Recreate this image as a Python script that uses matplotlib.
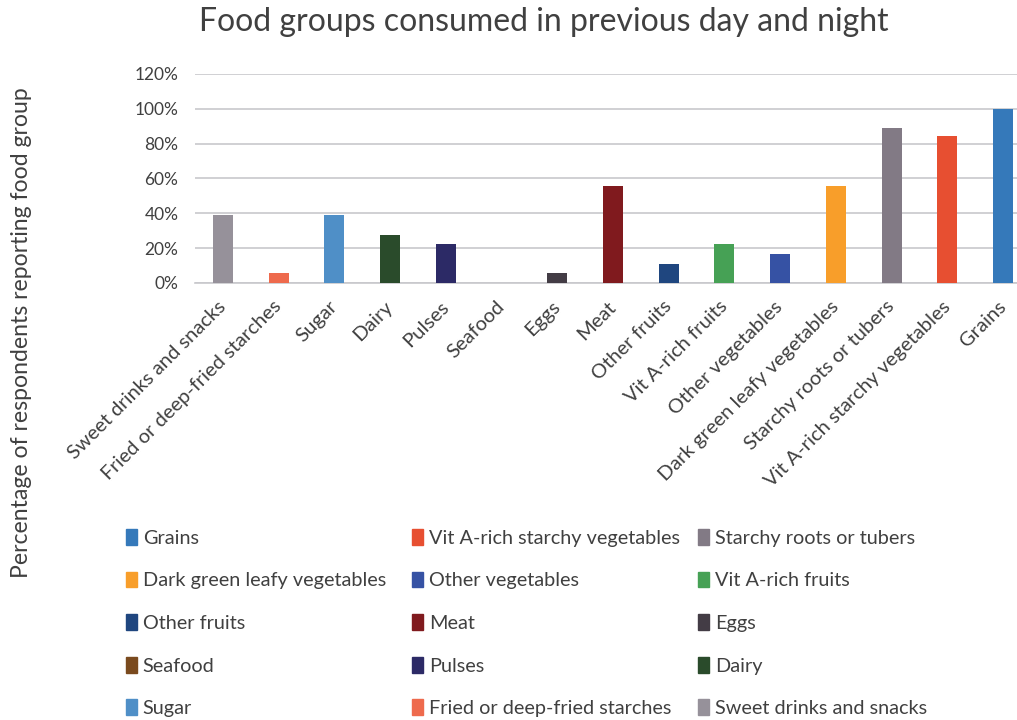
import matplotlib
matplotlib.use("Agg")
import matplotlib.pyplot as plt
from matplotlib.patches import Patch
import numpy as np

categories = ["Sweet drinks and snacks", "Fried or deep-fried starches", "Sugar", "Dairy",
              "Pulses", "Seafood", "Eggs", "Meat", "Other fruits", "Vit A-rich fruits",
              "Other vegetables", "Dark green leafy vegetables", "Starchy roots or tubers",
              "Vit A-rich starchy vegetables", "Grains"]
values = [38.9, 5.6, 38.9, 27.8, 22.2, 0.0, 5.6, 55.6, 11.1, 22.2, 16.7, 55.6, 88.9, 84.5, 100.0]
colors = ["#96919A", "#EE6A4D", "#4F8FC7", "#2A4B2B", "#2C2A66", "#7A4A1E", "#433C45",
          "#801A1E", "#1F467F", "#46A155", "#3652A4", "#F89E2A", "#827A85", "#E74F31", "#3579BA"]
yticks = [0, 20, 40, 60, 80, 100, 120]

plt.rcParams['font.family'] = ['Lato', 'DejaVu Sans']
txt = "#404040"

fig = plt.figure(figsize=(10.17, 7.2), dpi=100)
ax = fig.add_axes([195/1017, 1-283/720, (1031-195)/1017, (283-74)/720])
x = np.arange(len(categories))
ax.bar(x, values, width=0.36, color=colors, zorder=3)
ax.set_xlim(-0.5, len(categories)-0.5)
ax.set_ylim(0, 120)
ax.set_yticks(yticks)
ax.set_yticklabels([f"{v}%" for v in yticks], fontsize=12.5, color=txt)
ax.yaxis.grid(True, color="#C8C8CC", linewidth=1.2, zorder=0)
for s in ["top", "right", "left"]:
    ax.spines[s].set_visible(False)
ax.spines["bottom"].set_color("#C8C8CC")
ax.spines["bottom"].set_linewidth(1.2)
ax.tick_params(axis="both", length=0)
ax.tick_params(axis="y", pad=12)
ax.set_xticks(x)
ax.set_xticklabels(categories, rotation=45, ha="right", va="center", rotation_mode="anchor",
                   fontsize=14.5, color=txt)
ax.tick_params(axis="x", pad=15)

fig.text(544/1017, 1-22/720, "Food groups consumed in previous day and night",
         ha="center", va="center", fontsize=23, color=txt)
fig.text(22/1017, 1-333/720, "Percentage of respondents reporting food group",
         rotation=90, ha="center", va="center", fontsize=16.6, color=txt)

# legend, row-major order (reverse of bars), three equal-width columns
order = list(range(len(categories)))[::-1]
ncol = 3
col_x = [120, 406, 692]
for c in range(ncol):
    idx = order[c::ncol]
    handles = [Patch(color=colors[i]) for i in idx]
    labels = [categories[i] for i in idx]
    leg = fig.legend(handles, labels, ncol=1, loc="upper left",
                     bbox_to_anchor=(col_x[c]/1017, 1-523/720), frameon=False,
                     fontsize=14.3, handlelength=0.55, handleheight=0.85, handletextpad=0.3,
                     labelspacing=1.25, labelcolor=txt, borderaxespad=0, borderpad=0.3)
fig.savefig("out.png", dpi=100)
